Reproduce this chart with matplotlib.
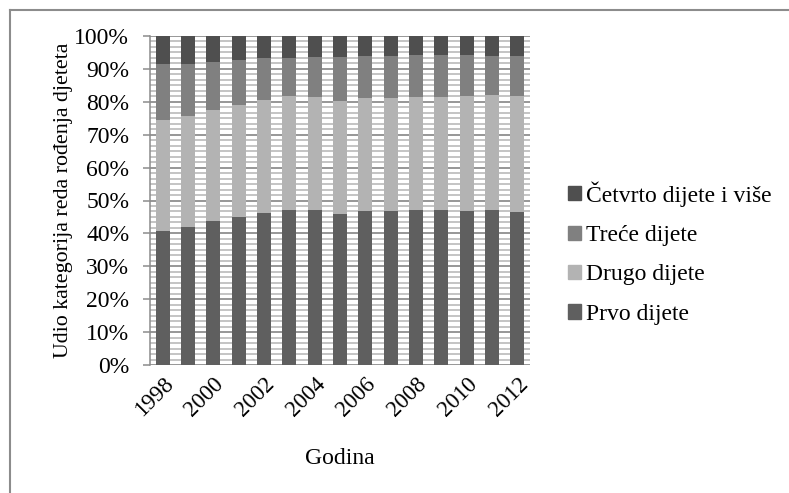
import numpy as np
import matplotlib
matplotlib.use("Agg")
import matplotlib.pyplot as plt
from matplotlib.lines import Line2D
from matplotlib.patches import Patch

# Values (cumulative tops, % of births)
years = list(range(1998, 2013))
prvo_top = [40.6, 42.0, 43.9, 45.1, 46.3, 47.2, 47.2, 45.9, 46.8, 46.8, 47.0, 47.1, 46.8, 47.2, 46.6]
drugo_top = [74.6, 75.7, 77.5, 79.1, 80.6, 81.7, 81.5, 80.2, 81.2, 81.2, 81.5, 81.5, 81.7, 82.1, 81.9]
trece_top = [91.6, 91.6, 92.1, 92.6, 93.4, 93.4, 93.6, 93.7, 94.0, 94.0, 94.1, 94.2, 94.1, 94.0, 94.0]

prvo = np.array(prvo_top)
drugo = np.array(drugo_top) - np.array(prvo_top)
trece = np.array(trece_top) - np.array(drugo_top)
cetvrto = 100.0 - np.array(trece_top)

labels = ["Prvo dijete", "Drugo dijete", "Treće dijete", "Četvrto dijete i više"]
colors = ["#5f5f5f", "#b3b3b3", "#808080", "#4f4f4f"]

plt.rcParams["font.family"] = ["Liberation Serif", "DejaVu Serif"]
FS = 17
GRID = "#8c8c8c"

fig = plt.figure(figsize=(7.89, 4.93), dpi=100)
ax = fig.add_axes([150 / 789, 1 - 365 / 493, 380 / 789, 329 / 493])

x = np.arange(len(years))
ax.set_xlim(-0.5, len(years) - 0.5)
ax.set_ylim(0, 100)

# narrow horizontal stripe pattern of the plot area + major gridlines
for v in np.arange(0, 100.01, 10 / 6):
    ax.axhline(v, color="#c4c4c4", lw=1.4, zorder=0)
for v in range(0, 101, 10):
    ax.axhline(v, color=GRID, lw=1.1, zorder=1)

bottom = np.zeros(len(years))
for vals, lab, col in zip([prvo, drugo, trece, cetvrto], labels, colors):
    ax.bar(x, vals, bottom=bottom, width=0.55, color=col, label=lab, zorder=2)
    bottom += vals

for s in ["top", "right", "bottom"]:
    ax.spines[s].set_visible(False)
ax.spines["left"].set_color(GRID)
ax.spines["left"].set_linewidth(1.1)

ax.set_yticks(range(0, 101, 10))
ax.set_yticklabels([f"{v}%" for v in range(0, 101, 10)], fontsize=FS)
ax.tick_params(axis="y", length=5, color=GRID, width=1.1, pad=10)

ax.set_xticks(x[::2])
ax.set_xticklabels([str(y) for y in years[::2]], fontsize=16.5, rotation=45,
                   ha="right", va="top", rotation_mode="anchor")
ax.tick_params(axis="x", length=0, pad=6)

ax.set_ylabel("Udio kategorija reda rođenja djeteta", fontsize=15.8, labelpad=1)
ax.set_xlabel("Godina", fontsize=FS, labelpad=20)

handles = [Patch(color=c, label=l) for c, l in zip(colors, labels)][::-1]
fig.legend(handles=handles, loc="center left", bbox_to_anchor=(547 / 789, 1 - 253 / 493),
           frameon=False, fontsize=FS, handlelength=0.55, handleheight=0.55,
           handletextpad=0.2, labelspacing=0.78)

# outer chart border (cropped at right/bottom)
fig.add_artist(Line2D([10 / 789, 10 / 789], [0, 1 - 10 / 493], color="#8c8c8c", lw=1.5))
fig.add_artist(Line2D([10 / 789, 1], [1 - 10 / 493, 1 - 10 / 493], color="#8c8c8c", lw=1.5))

fig.savefig("out.png", dpi=100)
